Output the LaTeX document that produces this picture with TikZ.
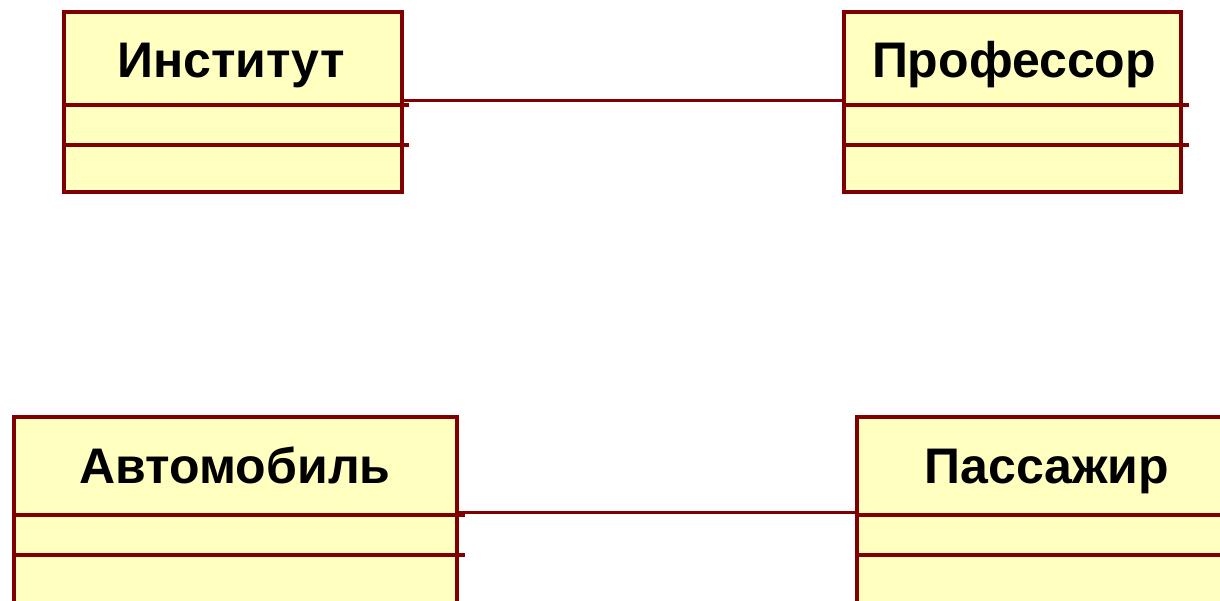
\documentclass[tikz,border=0pt]{standalone}
\usepackage{fontspec}
\setmainfont{Liberation Sans}
\definecolor{edge}{HTML}{800000}
\definecolor{boxfill}{HTML}{FFFFC0}
\begin{document}
\begin{tikzpicture}[x=1pt,y=-1pt,
  classbox/.style={draw=edge,fill=boxfill,line width=4pt,inner sep=0pt,anchor=north west},
  title/.style={font=\bfseries\fontsize{50}{50}\selectfont,text=black,inner sep=0pt,anchor=base},
  sep/.style={draw=edge,line width=3.5pt},
  assoc/.style={draw=edge,line width=3pt}]
\useasboundingbox (0,0) rectangle (1220,601);
% top row
\node[classbox,minimum width=338pt,minimum height=180pt] (inst) at (62,10) {};
\node[classbox,minimum width=337pt,minimum height=180pt] (prof) at (842,10) {};
% bottom row
\node[classbox,minimum width=443pt,minimum height=220pt] (auto) at (12,415) {};
\node[classbox,minimum width=400pt,minimum height=220pt] (pass) at (855,415) {};
% titles
\node[title] (instT) at (231,78) {Институт};
\node[title] (profT) at (1014,78) {Профессор};
\node[title] (autoT) at (235,483) {Автомобиль};
\node[title] (passT) at (1047,483) {Пассажир};
% compartments
\draw[sep] (inst.west |- 0,105) -- ([xshift=5pt]inst.east |- 0,105);
\draw[sep] (inst.west |- 0,145) -- ([xshift=5pt]inst.east |- 0,145);
\draw[sep] (prof.west |- 0,105) -- ([xshift=6pt]prof.east |- 0,105);
\draw[sep] (prof.west |- 0,145) -- ([xshift=6pt]prof.east |- 0,145);
\draw[sep] (auto.west |- 0,515) -- ([xshift=6pt]auto.east |- 0,515);
\draw[sep] (auto.west |- 0,555) -- ([xshift=6pt]auto.east |- 0,555);
\draw[sep] (pass.west |- 0,515) -- (pass.east |- 0,515);
\draw[sep] (pass.west |- 0,555) -- (pass.east |- 0,555);
% associations
\draw[assoc] (inst.east |- 0,101) -- (prof.west |- 0,101);
\draw[assoc] (auto.east |- 0,512) -- (pass.west |- 0,512);
\end{tikzpicture}
\end{document}
